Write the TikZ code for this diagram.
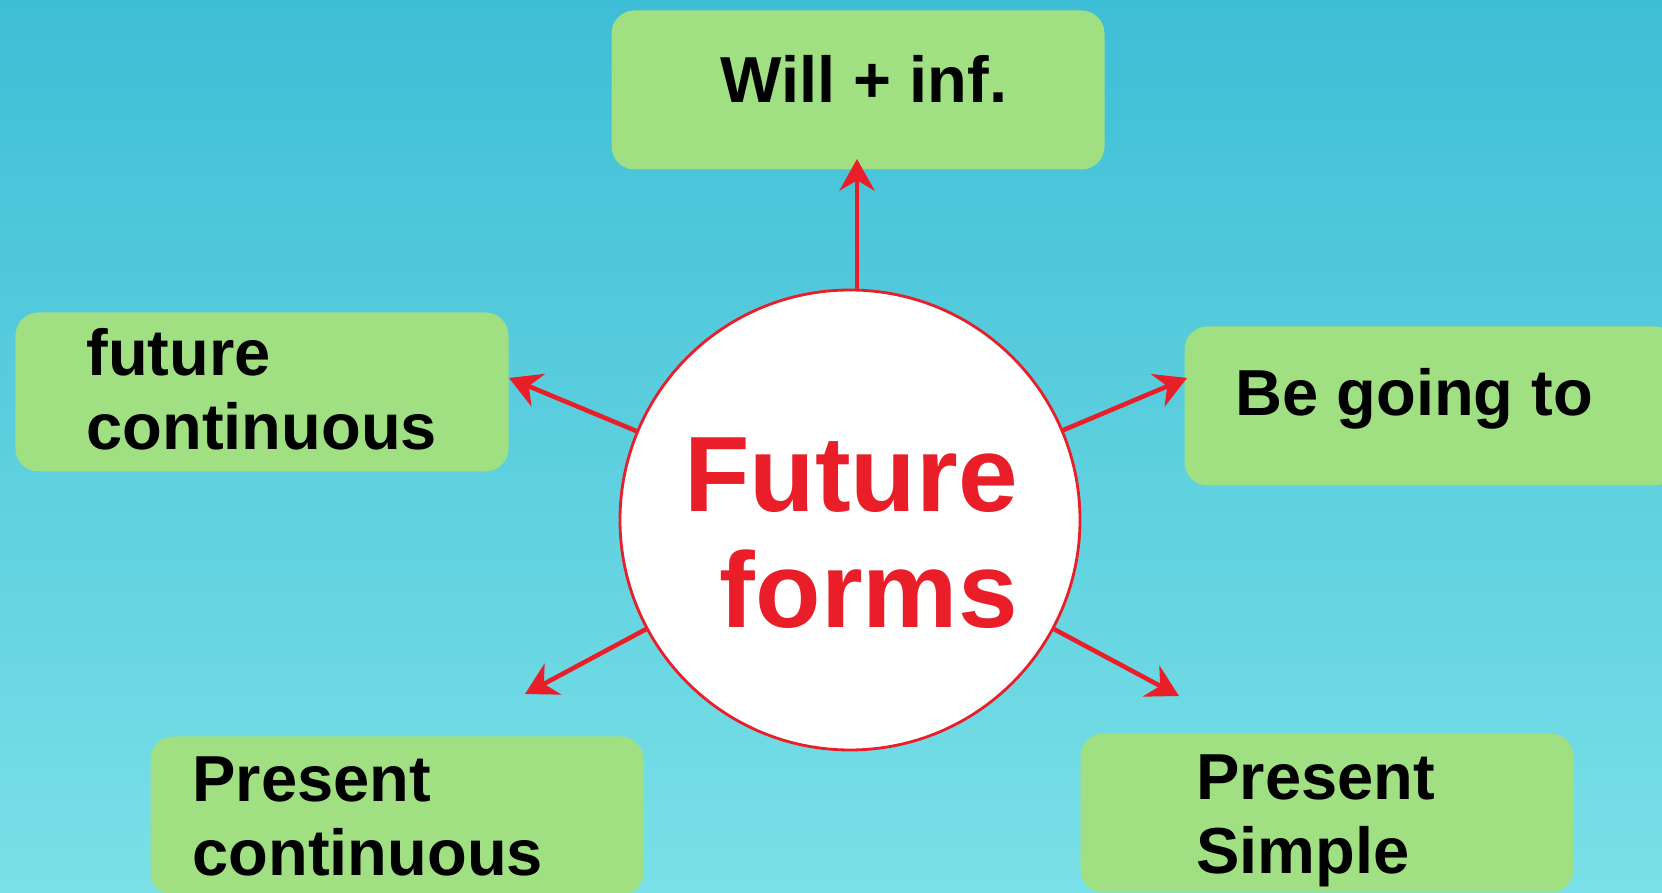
\documentclass[tikz,border=0pt]{standalone}
\usepackage{fontspec}
\setmainfont{Liberation Sans}
\usepackage{tikz}
\usetikzlibrary{shapes, arrows.meta, positioning}
\usetikzlibrary{calc}
\definecolor{skytop}{RGB}{62,190,214}
\definecolor{skybot}{RGB}{122,224,231}
\definecolor{leaf}{RGB}{160,224,130}
\definecolor{arrowred}{RGB}{234,30,40}

\begin{document}
\begin{tikzpicture}
  [
    Box/.style={rectangle, rounded corners=2.3mm, fill=leaf, minimum width=4.93cm, minimum height=1.59cm, inner sep=0pt},
    Txt/.style={anchor=base west, inner sep=0pt, align=left, font=\fontsize{18.5}{21}\selectfont\bfseries},
    Hub/.style={circle, draw=arrowred, fill=white, line width=0.8pt, minimum size=4.6cm, inner sep=0pt},
    Arrow/.style={draw=arrowred, line width=1.3pt, -{Stealth[length=9pt, width=10pt]}}
  ]
  % Background
  \useasboundingbox (0,0) rectangle (16.62,-8.93);
  \clip (0,0) rectangle (16.62,-8.93);
  \fill[top color=skytop, bottom color=skybot] (0,0) rectangle (16.62,-8.93);
  % Nodes
  \node[Hub] (fut) at (8.50,-5.20) {};
  \node[inner sep=0pt, align=right, text=arrowred, font=\fontsize{30.5}{33}\selectfont\bfseries] (futtxt) at (8.51,-5.33) {Future\\forms};
  \node[Box] (will) at (8.58,-0.90) {};
  \node[Txt] (willtxt) at ([xshift=1.09cm, yshift=-0.93cm]will.north west) {Will + {}inf.};
  \node[Box] (fcont) at (2.62,-3.92) {};
  \node[Txt] (fconttxt) at ([xshift=0.71cm, yshift=-1.38cm]fcont.north west) {future\\continuous};
  \node[Box] (going) at (14.31,-4.06) {};
  \node[Txt] (goingtxt) at ([xshift=0.51cm, yshift=-0.90cm]going.north west) {Be going to};
  \node[Box] (pcont) at (3.97,-8.16) {};
  \node[Txt] (pconttxt) at ([xshift=0.42cm, yshift=-1.40cm]pcont.north west) {Present\\continuous};
  \node[Box] (psimp) at (13.27,-8.13) {};
  \node[Txt] (psimptxt) at ([xshift=1.16cm, yshift=-1.41cm]psimp.north west) {Present\\Simple};
  % Arrow tips
  \coordinate (tipwill) at (8.57,-1.59);
  \coordinate (tipfcont) at (5.09,-3.78);
  \coordinate (tipgoing) at (11.87,-3.78);
  \coordinate (tippcont) at (5.25,-6.94);
  \coordinate (tippsimp) at (11.79,-6.96);
  % Lines
  \path[Arrow] (tipwill |- fut.north) -- (tipwill);
  \path[Arrow] (fut) -- (tipfcont);
  \path[Arrow] (fut) -- (tipgoing);
  \path[Arrow] (fut) -- (tippcont);
  \path[Arrow] (fut) -- (tippsimp);
\end{tikzpicture}
\end{document}
